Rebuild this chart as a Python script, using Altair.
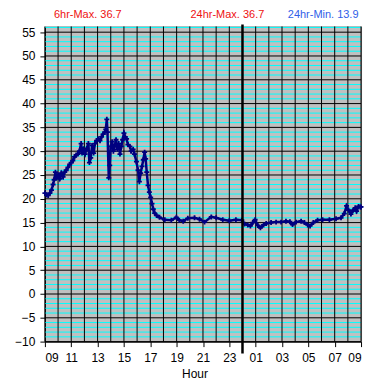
import altair as alt
import pandas as pd

# hours elapsed since 09:00 (0 .. 24)
hours = [0.0, 0.12, 0.25, 0.38, 0.5, 0.62, 0.7, 0.8, 0.88, 1.0,
         1.12, 1.25, 1.38, 1.5, 1.62, 1.75, 1.88, 2.0, 2.12, 2.25,
         2.38, 2.5, 2.62, 2.75, 2.82, 2.92, 3.05, 3.18, 3.3, 3.38,
         3.48, 3.58, 3.7, 3.8, 3.92, 4.05, 4.18, 4.3, 4.42, 4.55,
         4.62, 4.7, 4.75, 4.85, 4.92, 5.0, 5.1, 5.2, 5.3, 5.4,
         5.5, 5.6, 5.7, 5.8, 5.9, 6.0, 6.1, 6.2, 6.3, 6.45,
         6.55, 6.7, 6.8, 6.95, 7.07, 7.17, 7.27, 7.37, 7.47, 7.57,
         7.65, 7.73, 7.83, 7.93, 8.03, 8.13, 8.23, 8.33, 8.48, 8.7,
         9.1, 9.6, 9.98, 10.2, 10.5, 10.85, 11.36, 11.74, 12.12, 12.63,
         13.0, 13.5, 14.0, 14.5, 14.95, 15.15, 15.4, 15.6, 15.78, 15.96,
         16.16, 16.36, 16.6, 16.8, 17.17, 17.55, 17.93, 18.3, 18.6, 18.8,
         19.07, 19.45, 19.7, 19.95, 20.13, 20.38, 20.7, 21.08, 21.6, 22.1,
         22.48, 22.73, 22.9, 23.05, 23.23, 23.4, 23.56, 23.66, 23.81, 23.94,
         24.0]

temps = [21.2, 20.8, 20.7, 21.2, 21.8, 23.0, 24.0, 25.6, 24.4, 25.0,
         24.2, 25.4, 24.6, 25.6, 26.0, 26.6, 27.2, 27.6, 28.0, 28.8,
         29.2, 29.4, 30.0, 31.6, 29.6, 30.4, 29.4, 30.6, 31.6, 27.6,
         28.6, 31.2, 29.6, 31.6, 32.2, 32.6, 32.2, 33.0, 33.6, 34.0,
         34.6, 36.7, 34.0, 24.4, 27.0, 31.0, 32.0, 30.0, 31.2, 32.4,
         30.4, 31.6, 29.4, 31.0, 32.4, 33.8, 33.0, 32.6, 31.4, 31.0,
         30.0, 30.4, 29.4, 27.8, 26.0, 23.6, 25.4, 26.8, 28.2, 29.8,
         28.4, 25.6, 22.8, 21.4, 20.3, 19.0, 17.8, 17.0, 16.5, 16.1,
         15.6, 15.5, 16.1, 15.5, 15.3, 15.9, 16.0, 15.7, 15.1, 16.2,
         16.0, 15.6, 15.4, 15.6, 15.5, 14.7, 14.5, 14.3, 15.0, 15.6,
         14.4, 13.9, 14.5, 14.8, 15.0, 15.1, 15.1, 15.3, 15.2, 14.6,
         15.1, 15.3, 15.0, 14.5, 14.3, 15.0, 15.5, 15.6, 15.6, 15.8,
         16.0, 16.9, 18.5, 17.6, 16.8, 17.6, 18.1, 17.4, 18.4, 18.3,
         18.3]

x_tick_values = [0, 2, 4, 6, 8, 10, 12, 14, 16, 18, 20, 22, 24]
x_tick_labels = ["09", "11", "13", "15", "17", "19", "21", "23",
                 "01", "03", "05", "07", "09"]
y_major = [-10, -5, 0, 5, 10, 15, 20, 25, 30, 35, 40, 45, 50, 55]
y_minor = [-9, -8, -7, -6, -4, -3, -2, -1, 1, 2, 3, 4, 6, 7, 8, 9,
           11, 12, 13, 14, 16, 17, 18, 19, 21, 22, 23, 24, 26, 27, 28, 29,
           31, 32, 33, 34, 36, 37, 38, 39, 41, 42, 43, 44, 46, 47, 48, 49,
           51, 52, 53, 54, 56]
hour_lines = list(range(0, 25))
midnight = [15]

header_texts = ["6hr-Max. 36.7", "24hr-Max. 36.7", "24hr-Min. 13.9"]

W, H = 317, 316
FONT = "Liberation Sans"
NAVY = "#000080"

xscale = alt.Scale(domain=[0, 24], nice=False, zero=False)
yscale = alt.Scale(domain=[-10, 56.2], nice=False, zero=False)

label_expr = "[" + ",".join("'%s'" % s for s in x_tick_labels) + "][round(datum.value / 2)]"

x_axis = alt.Axis(
    values=x_tick_values, labelExpr=label_expr, grid=False,
    tickSize=5, tickColor="black", domainColor="black",
    labelFontSize=12, labelFont=FONT, labelColor="black", labelPadding=6,
    title="Hour", titleFont=FONT, titleFontSize=12, titleFontWeight="normal",
    titleColor="black", titlePadding=5, titleX=150)
y_axis = alt.Axis(
    values=y_major, grid=False, tickSize=5, tickColor="black",
    domainColor="black", labelFontSize=12, labelFont=FONT,
    labelColor="black", labelPadding=5, title=None)

minor = alt.Chart(pd.DataFrame({"y": y_minor})).mark_rule(
    color="#00FFFF", strokeWidth=1).encode(
    y=alt.Y("y:Q", scale=yscale, axis=y_axis))

major = alt.Chart(pd.DataFrame({"y": y_major})).mark_rule(
    color="black", strokeWidth=1).encode(
    y=alt.Y("y:Q", scale=yscale, axis=y_axis))

vert = alt.Chart(pd.DataFrame({"x": hour_lines})).mark_rule(
    color="black", strokeWidth=1).encode(
    x=alt.X("x:Q", scale=xscale, axis=x_axis))

mid = alt.Chart(pd.DataFrame({"x": midnight})).mark_rule(
    color="black", strokeWidth=2.5, clip=False).encode(
    x=alt.X("x:Q", scale=xscale, axis=x_axis),
    y=alt.value(-2), y2=alt.value(H + 12))

df = pd.DataFrame({"hour": hours, "temp": temps})

line = alt.Chart(df).mark_line(color=NAVY, strokeWidth=2.5).encode(
    x=alt.X("hour:Q", scale=xscale, axis=x_axis),
    y=alt.Y("temp:Q", scale=yscale, axis=y_axis))
pts = alt.Chart(df).mark_point(
    shape="M-1,0L1,0M0,-1L0,1", filled=False, size=25, strokeWidth=1.8,
    color=NAVY, opacity=1).encode(
    x=alt.X("hour:Q", scale=xscale, axis=x_axis),
    y=alt.Y("temp:Q", scale=yscale, axis=y_axis))

def header(text, xpos, color):
    return alt.Chart(pd.DataFrame({"t": [text]})).mark_text(
        font=FONT, fontSize=11, color=color, baseline="middle", align="center",
        clip=False).encode(text="t:N", x=alt.value(xpos), y=alt.value(-11))

h1 = header(header_texts[0], 43, "#ee1111")
h2 = header(header_texts[1], 183, "#ee1111")
h3 = header(header_texts[2], 279, "#3060e8")

chart = alt.layer(minor, major, vert, line, pts, mid, h1, h2, h3).properties(
    width=W, height=H,
    autosize=alt.AutoSizeParams(type="none"),
    padding={"left": 37, "top": 18, "right": 16, "bottom": 45},
    background="white",
).configure_view(fill="#C0C0C0", stroke="#808080", strokeWidth=1)

chart.save("out.html", embed_options={"renderer": "svg", "actions": False})
